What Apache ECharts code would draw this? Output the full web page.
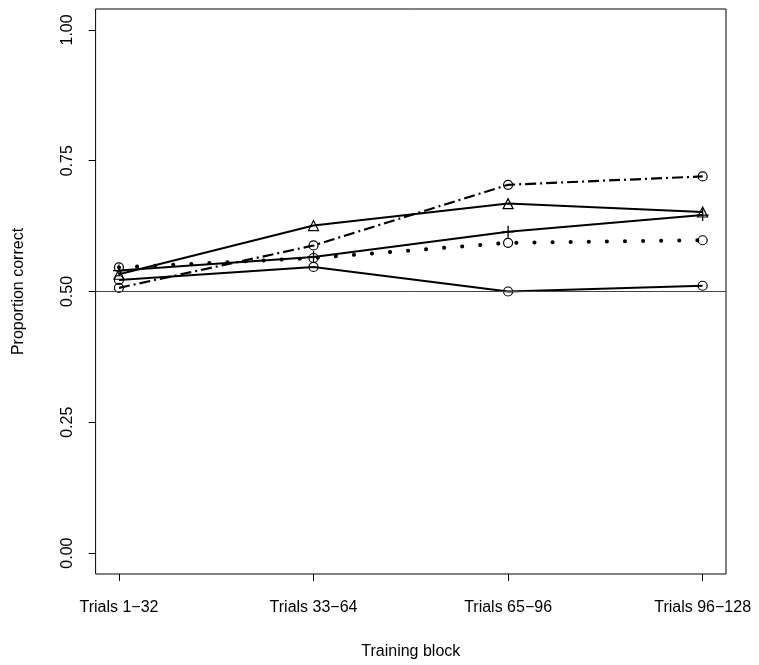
<!DOCTYPE html>
<html>
<head>
<meta charset="utf-8">
<script src="https://cdn.jsdelivr.net/npm/echarts@6/dist/echarts.min.js"></script>
<style>
  html, body { margin: 0; padding: 0; background: #fff; }
  #chart { width: 759px; height: 665px; }
</style>
</head>
<body>
<div id="chart"></div>
<script>
// Training blocks along the x axis
const blocks = ['Trials 1\u221232', 'Trials 33\u221264', 'Trials 65\u221296', 'Trials 96\u2212128'];
const yTicks = [0, 0.25, 0.5, 0.75, 1];
const chance = 0.5;

// Proportion correct per block, one array per condition
const dotDashCircle = [0.507, 0.588, 0.704, 0.720];
const solidTriangle = [0.533, 0.626, 0.668, 0.652];
const solidPlus     = [0.540, 0.566, 0.614, 0.646];
const dottedCircle  = [0.546, 0.564, 0.593, 0.598];
const solidCircle   = [0.522, 0.547, 0.500, 0.511];

const toPoints = vals => vals.map((v, i) => [i + 1, v]);
const plusPath = 'path://M0,-1L0,1M-1,0L1,0';

function lineSeries(vals, lineStyle, symbol, size, z) {
  return {
    type: 'line',
    data: toPoints(vals),
    symbol: symbol,
    symbolSize: size,
    showSymbol: true,
    lineStyle: Object.assign({ color: '#000', width: 2 }, lineStyle),
    itemStyle: { color: 'transparent', borderColor: '#000', borderWidth: 1.2 },
    emphasis: { disabled: true },
    z: z || 2,
    animation: false
  };
}

const chart = echarts.init(document.getElementById('chart'), null, { renderer: 'canvas' });
const font = '"Liberation Sans", Arial, sans-serif';

const series = [
  lineSeries(dotDashCircle, { type: [11, 4, 2, 4], width: 2.2 }, 'circle', 9),
  lineSeries(solidTriangle, { type: 'solid' }, 'triangle', 10),
  lineSeries(solidPlus, { type: 'solid' }, plusPath, 12),
  lineSeries(dottedCircle, { type: [0.1, 18], width: 4, cap: 'round' }, 'circle', 9),
  lineSeries(solidCircle, { type: 'solid' }, 'circle', 9)
];
series[2].itemStyle.borderWidth = 1.3;
series[4].markLine = {
  silent: true,
  symbol: ['none', 'none'],
  label: { show: false },
  lineStyle: { color: '#444', width: 1, type: 'solid' },
  data: [{ yAxis: chance }],
  animation: false
};

chart.setOption({
  backgroundColor: '#fff',
  animation: false,
  grid: {
    left: 95.6, right: 33, top: 9, bottom: 91,
    show: true, borderColor: '#000', borderWidth: 1, backgroundColor: 'transparent'
  },
  xAxis: {
    type: 'value',
    min: 0.88, max: 4.12,
    name: 'Training block',
    nameLocation: 'middle',
    nameGap: 70,
    nameTextStyle: { fontFamily: font, fontSize: 16, color: '#000' },
    axisLine: { show: false, onZero: false },
    splitLine: { show: false },
    axisTick: { show: true, length: 7, customValues: [1, 2, 3, 4], lineStyle: { color: '#000' } },
    axisLabel: {
      customValues: [1, 2, 3, 4],
      margin: 26,
      fontFamily: font, fontSize: 16, color: '#000',
      formatter: v => blocks[Math.round(v) - 1]
    }
  },
  yAxis: {
    type: 'value',
    min: -0.04, max: 1.04,
    name: 'Proportion correct',
    nameLocation: 'middle',
    nameGap: 69,
    nameRotate: 90,
    nameTextStyle: { fontFamily: font, fontSize: 16, color: '#000' },
    axisLine: { show: false, onZero: false },
    splitLine: { show: false },
    axisTick: { show: true, length: 7, customValues: yTicks, lineStyle: { color: '#000' } },
    axisLabel: {
      customValues: yTicks,
      rotate: 90,
      margin: 20,
      fontFamily: font, fontSize: 16, color: '#000',
      formatter: v => v.toFixed(2)
    }
  },
  series: series
});
</script>
</body>
</html>
